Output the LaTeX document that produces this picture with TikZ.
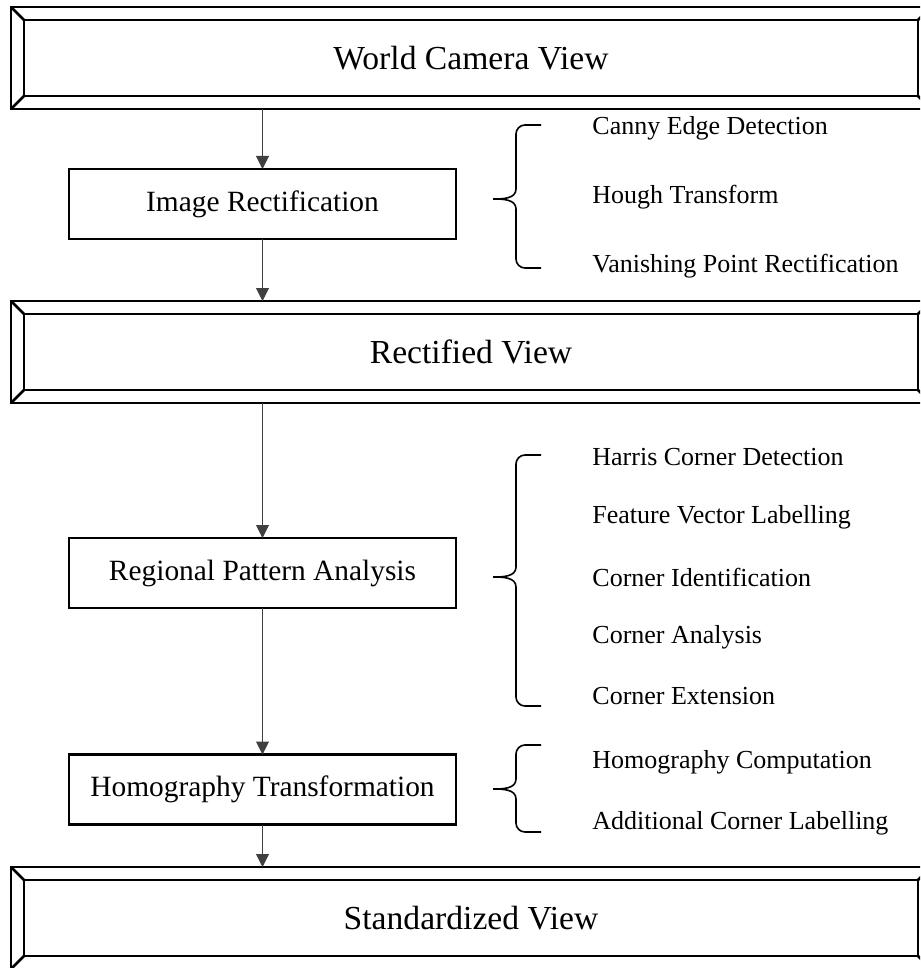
\documentclass[tikz,border=0pt]{standalone}
\usepackage{fontspec}
\setmainfont{Liberation Serif}
\usetikzlibrary{arrows.meta}

\tikzset{
  viewframe/.style={draw, line width=1.3pt, outer sep=0pt, minimum width=460pt,
    minimum height=51pt, font=\fontsize{16.8}{20}\selectfont},
  bevelline/.style={line width=1.3pt},
  stagebox/.style={draw, line width=1.1pt, outer sep=0pt, minimum width=193.5pt,
    minimum height=35pt, font=\fontsize{14.7}{18}\selectfont},
  flow/.style={-{Triangle[length=6.5pt,width=6.5pt]}, line width=0.5pt, draw=black!75},
  braceline/.style={line width=0.8pt},
  stepitem/.style={anchor=west, inner sep=0pt, font=\fontsize{13}{15}\selectfont},
}

% bevelled frame round a view node
\newcommand{\bevelframe}[1]{%
  \draw[bevelline] ([shift={(6.5pt,-6.5pt)}]#1.north west) rectangle ([shift={(-6.5pt,6.5pt)}]#1.south east);
  \foreach \a/\sx/\sy in {north west/1/-1, north east/-1/-1, south west/1/1, south east/-1/1}
    \draw[bevelline] (#1.\a) -- ([shift={(\sx*6.5pt,\sy*6.5pt)}]#1.\a);
}

% brace: top y, bottom y, tip y
\newcommand{\listbrace}[3]{%
  \draw[braceline] (541,-#1) -- (525,-#1) to[out=180,in=90] (516,-#1-9)
    -- (516,-#3+10) to[out=-90,in=0] (493,-#3) to[out=0,in=90] (516,-#3-10)
    -- (516,-#2+9) to[out=-90,in=180] (525,-#2) -- (541,-#2);
}

\begin{document}
\begin{tikzpicture}[x=0.5pt,y=0.5pt]
  \clip (0,0) rectangle (920,-968);

  % views
  \node[viewframe] (world) at (471,-58) {World Camera View};
  \bevelframe{world}
  \node[viewframe] (rectified) at (471,-352) {Rectified View};
  \bevelframe{rectified}
  \node[viewframe] (standard) at (471,-918) {Standardized View};
  \bevelframe{standard}

  % stages
  \node[stagebox] (imgrect) at (262.5,-204) {Image Rectification};
  \node[stagebox] (regional) at (262.5,-573) {Regional Pattern Analysis};
  \node[stagebox] (homog) at (262.5,-789.5) {Homography Transformation};

  \draw[flow] (imgrect.north |- world.south) -- (imgrect.north);
  \draw[flow] (imgrect.south) -- (imgrect.south |- rectified.north);
  \draw[flow] (regional.north |- rectified.south) -- (regional.north);
  \draw[flow] (regional.south) -- (homog.north);
  \draw[flow] (homog.south) -- (homog.south |- standard.north);

  % steps
  \listbrace{125}{268}{199}
  \node[stepitem] (canny) at (592,-128) {Canny Edge Detection};
  \node[stepitem] (hough) at (592,-197) {Hough Transform};
  \node[stepitem] (vanish) at (592,-266) {Vanishing Point Rectification};

  \listbrace{455}{706}{577}
  \node[stepitem] (harris) at (592,-457) {Harris Corner Detection};
  \node[stepitem] (feature) at (592,-517) {Feature Vector Labelling};
  \node[stepitem] (cornerid) at (592,-577) {Corner Identification};
  \node[stepitem] (corneran) at (592,-637) {Corner Analysis};
  \node[stepitem] (cornerext) at (592,-696) {Corner Extension};

  \listbrace{745}{832}{789}
  \node[stepitem] (homcomp) at (592,-762) {Homography Computation};
  \node[stepitem] (addlabel) at (592,-823) {Additional Corner Labelling};
\end{tikzpicture}
\end{document}
